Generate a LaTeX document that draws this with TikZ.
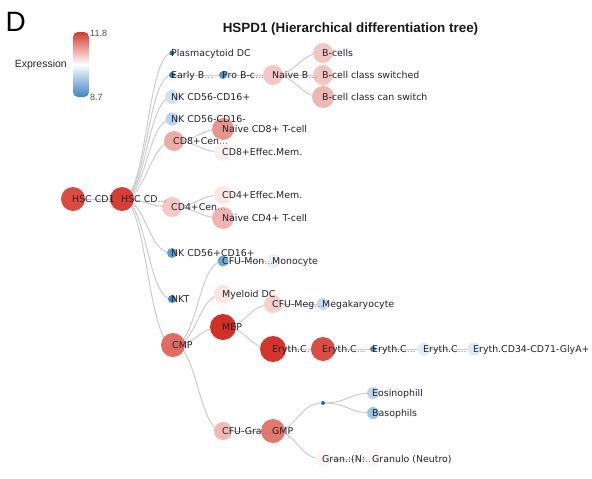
\documentclass[tikz,border=0pt]{standalone}
\usepackage{fontspec}
\setmainfont{Liberation Sans}
\newfontfamily\tagfont{DejaVu Sans}
\usetikzlibrary{positioning}
\usepackage{xcolor}
\pgfdeclarelayer{background}
\pgfdeclarelayer{foreground}
\pgfsetlayers{background,main,foreground}
\newcommand{\more}{\textcolor{moregray}{...}}
\definecolor{txtgray}{HTML}{22222F}
\definecolor{moregray}{HTML}{7A7A85}
\definecolor{linkgray}{HTML}{CCCCCC}
\definecolor{hiRed}{HTML}{D7392F}
\definecolor{loBlue}{HTML}{3A84C4}
\definecolor{exHscA}{HTML}{DC4A40}
\definecolor{exHscB}{HTML}{D93E34}
\definecolor{exPdc}{HTML}{2F72B4}
\definecolor{exEarlyB}{HTML}{3B7DBE}
\definecolor{exProB}{HTML}{5593CC}
\definecolor{exNaiveB}{HTML}{F3C7C3}
\definecolor{exBcell}{HTML}{F3C5C1}
\definecolor{exBCan}{HTML}{EFB7B2}
\definecolor{exNkA}{HTML}{CFE2F1}
\definecolor{exNkB}{HTML}{B7D4EA}
\definecolor{exCdEightCen}{HTML}{EEABA5}
\definecolor{exCdEightNaive}{HTML}{E8958E}
\definecolor{exCdEightEff}{HTML}{FCF1F0}
\definecolor{exCdFourCen}{HTML}{F4C9C5}
\definecolor{exCdFourEff}{HTML}{FBE6E3}
\definecolor{exCdFourNaive}{HTML}{EFB4AF}
\definecolor{exNkC}{HTML}{5E9BD0}
\definecolor{exNkt}{HTML}{4A88C4}
\definecolor{exCmp}{HTML}{E06B62}
\definecolor{exCfuMon}{HTML}{6FA5D5}
\definecolor{exMono}{HTML}{E9F1F8}
\definecolor{exMyeDc}{HTML}{FBE4E1}
\definecolor{exMep}{HTML}{D42F26}
\definecolor{exCfuMeg}{HTML}{F5D0CC}
\definecolor{exMega}{HTML}{C6DCEE}
\definecolor{exEryA}{HTML}{D6342B}
\definecolor{exEryB}{HTML}{DC4C43}
\definecolor{exEryC}{HTML}{4A88C5}
\definecolor{exEryD}{HTML}{E2ECF6}
\definecolor{exEryE}{HTML}{DDE9F4}
\definecolor{exCfuGra}{HTML}{F0B9B4}
\definecolor{exGmp}{HTML}{E3766D}
\definecolor{exGmpSub}{HTML}{2D6CAD}
\definecolor{exEos}{HTML}{BBD6EB}
\definecolor{exBaso}{HTML}{A0C5E3}
\definecolor{exGranN}{HTML}{FDF4F3}
\definecolor{exGranulo}{HTML}{FCF7F7}

\begin{document}
\begin{tikzpicture}[x=1pt,y=-1pt,
  cell/.style={circle, inner sep=0pt, minimum size=#1},
  tag/.style={anchor=base west, inner sep=0pt, yshift=-3.4pt, text=txtgray,
    font=\tagfont\fontsize{9.4}{11}\selectfont},
  link/.style={draw=linkgray, line width=1pt}]
  \useasboundingbox (0,0) rectangle (592,479);

  % panel letter, title, legend
  \node[anchor=base west, inner sep=0pt, font=\fontsize{28}{32}\selectfont] (panel) at (5.5,31) {D};
  \node[anchor=base, inner sep=0pt, font=\bfseries\fontsize{13.4}{16}\selectfont, text=black!90] (title) at (350.5,32.5) {HSPD1 (Hierarchical differentiation tree)};
  \shade[top color=hiRed, bottom color=loBlue, middle color=white, rounded corners=5pt] (73,32) rectangle (89,97);
  \node[anchor=east, inner sep=0pt, font=\fontsize{10.5}{12}\selectfont, text=black!85] (legend) at (67,65) {Expression};
  \node[anchor=west, inner sep=0pt, font=\fontsize{9}{10}\selectfont, text=black!70] (legmax) at (90,33) {11.8};
  \node[anchor=west, inner sep=0pt, font=\fontsize{9}{10}\selectfont, text=black!70] (legmin) at (90,97) {8.7};

  % cells
  \node[cell=24pt, fill=exHscA]         (HscA)     at (73,199)  {};
  \node[cell=24pt, fill=exHscB]         (HscB)     at (122,199) {};
  \node[cell=5pt,  fill=exPdc]          (Pdc)      at (172,53)  {};
  \node[cell=6pt,  fill=exEarlyB]       (EarlyB)   at (172,75)  {};
  \node[cell=8pt,  fill=exProB]         (ProB)     at (223,75)  {};
  \node[cell=20pt, fill=exNaiveB]       (NaiveB)   at (273,75)  {};
  \node[cell=20pt, fill=exBcell]        (Bcell)    at (323,53)  {};
  \node[cell=20pt, fill=exBcell]        (BSw)      at (323,75)  {};
  \node[cell=22pt, fill=exBCan]         (BCan)     at (323,97)  {};
  \node[cell=14pt, fill=exNkA]          (NkA)      at (172,97)  {};
  \node[cell=13pt, fill=exNkB]          (NkB)      at (172,119) {};
  \node[cell=20pt, fill=exCdEightCen]   (CdEightCen)   at (174,141) {};
  \node[cell=22pt, fill=exCdEightNaive] (CdEightNaive) at (223,129) {};
  \node[cell=18pt, fill=exCdEightEff]   (CdEightEff)   at (223,152) {};
  \node[cell=20pt, fill=exCdFourCen]    (CdFourCen)    at (172,207) {};
  \node[cell=18pt, fill=exCdFourEff]    (CdFourEff)    at (223,195) {};
  \node[cell=22pt, fill=exCdFourNaive]  (CdFourNaive)  at (223,218) {};
  \node[cell=10pt, fill=exNkC]          (NkC)      at (172,253) {};
  \node[cell=8pt,  fill=exNkt]          (Nkt)      at (172,299) {};
  \node[cell=24pt, fill=exCmp]          (Cmp)      at (173,345) {};
  \node[cell=11pt, fill=exCfuMon]       (CfuMon)   at (223,261) {};
  \node[cell=14pt, fill=exMono]         (Mono)     at (273,261) {};
  \node[cell=18pt, fill=exMyeDc]        (MyeDc)    at (223,294) {};
  \node[cell=26pt, fill=exMep]          (Mep)      at (223,327) {};
  \node[cell=18pt, fill=exCfuMeg]       (CfuMeg)   at (273,304) {};
  \node[cell=12pt, fill=exMega]         (Mega)     at (323,304) {};
  \node[cell=26pt, fill=exEryA]         (EryA)     at (273,349) {};
  \node[cell=24pt, fill=exEryB]         (EryB)     at (323,349) {};
  \node[cell=6pt,  fill=exEryC]         (EryC)     at (373,349) {};
  \node[cell=13pt, fill=exEryD]         (EryD)     at (424,349) {};
  \node[cell=13pt, fill=exEryE]         (EryE)     at (474,349) {};
  \node[cell=18pt, fill=exCfuGra]       (CfuGra)   at (223,431) {};
  \node[cell=24pt, fill=exGmp]          (Gmp)      at (273,431) {};
  \node[cell=4pt,  fill=exGmpSub]       (GmpSub)   at (323,403) {};
  \node[cell=12pt, fill=exEos]          (Eos)      at (373,393) {};
  \node[cell=12pt, fill=exBaso]         (Baso)     at (373,413) {};
  \node[cell=16pt, fill=exGranN]        (GranN)    at (323,459) {};
  \node[cell=16pt, fill=exGranulo]      (Granulo)  at (373,459) {};

  % links
  \begin{pgfonlayer}{background}
    \foreach \a/\b in {HscA/HscB, HscB/Pdc, HscB/EarlyB, EarlyB/ProB, ProB/NaiveB,
        NaiveB/Bcell, NaiveB/BSw, NaiveB/BCan, HscB/NkA, HscB/NkB,
        HscB/CdEightCen, CdEightCen/CdEightNaive, CdEightCen/CdEightEff,
        HscB/CdFourCen, CdFourCen/CdFourEff, CdFourCen/CdFourNaive,
        HscB/NkC, HscB/Nkt, HscB/Cmp, Cmp/CfuMon, CfuMon/Mono, Cmp/MyeDc,
        Cmp/Mep, Mep/CfuMeg, CfuMeg/Mega, Mep/EryA, EryA/EryB, EryB/EryC,
        EryC/EryD, EryD/EryE, Cmp/CfuGra, CfuGra/Gmp, Gmp/GmpSub,
        GmpSub/Eos, GmpSub/Baso, Gmp/GranN, GranN/Granulo}
      \draw[link] (\a.center) .. controls +(25,0) and +(-25,0) .. (\b.center);
  \end{pgfonlayer}

  % labels
  \begin{pgfonlayer}{foreground}
    \node[tag] (HscA-t)     at ([xshift=-1pt]HscA.center)     {HSC CD1\more};
    \node[tag] (HscB-t)     at ([xshift=-1pt]HscB.center)     {HSC CD\more};
    \node[tag] (Pdc-t)      at ([xshift=-1pt]Pdc.center)      {Plasmacytoid DC};
    \node[tag] (EarlyB-t)   at ([xshift=-1pt]EarlyB.center)   {Early B\more};
    \node[tag] (ProB-t)     at ([xshift=-1pt]ProB.center)     {Pro B-c\more};
    \node[tag] (NaiveB-t)   at ([xshift=-1pt]NaiveB.center)   {Naive B\more};
    \node[tag] (Bcell-t)    at ([xshift=-1pt]Bcell.center)    {B-cells};
    \node[tag] (BSw-t)      at ([xshift=-1pt]BSw.center)      {B-cell class switched};
    \node[tag] (BCan-t)     at ([xshift=-1pt]BCan.center)     {B-cell class can switch};
    \node[tag] (NkA-t)      at ([xshift=-1pt]NkA.center)      {NK CD56-CD16+};
    \node[tag] (NkB-t)      at ([xshift=-1pt]NkB.center)      {NK CD56-CD16-};
    \node[tag] (CdEightCen-t)   at ([xshift=-1pt]CdEightCen.center)   {CD8+Cen\more};
    \node[tag] (CdEightNaive-t) at ([xshift=-1pt]CdEightNaive.center) {Naive CD8+ T-cell};
    \node[tag] (CdEightEff-t)   at ([xshift=-1pt]CdEightEff.center)   {CD8+Effec.Mem.};
    \node[tag] (CdFourCen-t)    at ([xshift=-1pt]CdFourCen.center)    {CD4+Cen\more};
    \node[tag] (CdFourEff-t)    at ([xshift=-1pt]CdFourEff.center)    {CD4+Effec.Mem.};
    \node[tag] (CdFourNaive-t)  at ([xshift=-1pt]CdFourNaive.center)  {Naive CD4+ T-cell};
    \node[tag] (NkC-t)      at ([xshift=-1pt]NkC.center)      {NK CD56+CD16+};
    \node[tag] (Nkt-t)      at ([xshift=-1pt]Nkt.center)      {NKT};
    \node[tag] (Cmp-t)      at ([xshift=-1pt]Cmp.center)      {CMP};
    \node[tag] (CfuMon-t)   at ([xshift=-1pt]CfuMon.center)   {CFU-Mon\more};
    \node[tag] (Mono-t)     at ([xshift=-1pt]Mono.center)     {Monocyte};
    \node[tag] (MyeDc-t)    at ([xshift=-1pt]MyeDc.center)    {Myeloid DC};
    \node[tag] (Mep-t)      at ([xshift=-1pt]Mep.center)      {MEP};
    \node[tag] (CfuMeg-t)   at ([xshift=-1pt]CfuMeg.center)   {CFU-Meg\more};
    \node[tag] (Mega-t)     at ([xshift=-1pt]Mega.center)     {Megakaryocyte};
    \node[tag] (EryA-t)     at ([xshift=-1pt]EryA.center)     {Eryth.C\more};
    \node[tag] (EryB-t)     at ([xshift=-1pt]EryB.center)     {Eryth.C\more};
    \node[tag] (EryC-t)     at ([xshift=-1pt]EryC.center)     {Eryth.C\more};
    \node[tag] (EryD-t)     at ([xshift=-1pt]EryD.center)     {Eryth.C\more};
    \node[tag] (EryE-t)     at ([xshift=-1pt]EryE.center)     {Eryth.CD34-CD71-GlyA+};
    \node[tag] (CfuGra-t)   at ([xshift=-1pt]CfuGra.center)   {CFU-Gra\more};
    \node[tag] (Gmp-t)      at ([xshift=-1pt]Gmp.center)      {GMP};
    \node[tag] (Eos-t)      at ([xshift=-1pt]Eos.center)      {Eosinophill};
    \node[tag] (Baso-t)     at ([xshift=-1pt]Baso.center)     {Basophils};
    \node[tag] (GranN-t)    at ([xshift=-1pt]GranN.center)    {Gran.:(N:\textcolor{moregray}{..}};
    \node[tag] (Granulo-t)  at ([xshift=-1pt]Granulo.center)  {Granulo (Neutro)};
  \end{pgfonlayer}
\end{tikzpicture}
\end{document}
